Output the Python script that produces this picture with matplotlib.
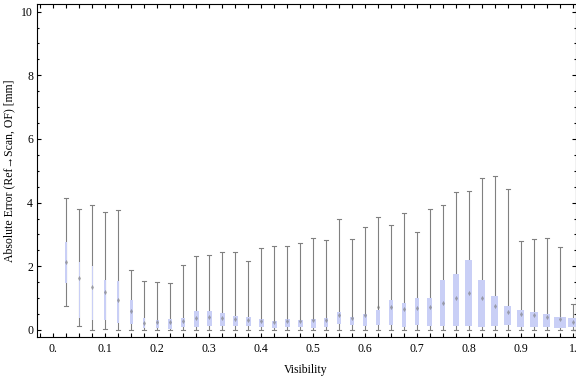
import numpy as np
import matplotlib
matplotlib.use("Agg")
import matplotlib.pyplot as plt
from matplotlib.patches import Rectangle
from matplotlib.ticker import MultipleLocator

# Visibility bins (box positions)
visibility = [0.025, 0.05, 0.075, 0.1, 0.125, 0.15, 0.175, 0.2, 0.225, 0.25,
              0.275, 0.3, 0.325, 0.35, 0.375, 0.4, 0.425, 0.45, 0.475, 0.5,
              0.525, 0.55, 0.575, 0.6, 0.625, 0.65, 0.675, 0.7, 0.725, 0.75,
              0.775, 0.8, 0.825, 0.85, 0.875, 0.9, 0.925, 0.95, 0.975, 1.0]

# absolute error statistics [mm]
whisker_lo = [0.75, 0.14, 0.0, 0.04, 0.0, 0.0, 0.0, 0.0, 0.0, 0.0,
              0.0, 0.0, 0.0, 0.0, 0.0, 0.0, 0.0, 0.0, 0.0, 0.0,
              0.0, 0.0, 0.0, 0.0, 0.0, 0.0, 0.0, 0.0, 0.0, 0.0,
              0.0, 0.0, 0.0, 0.0, 0.0, 0.0, 0.0, 0.0, 0.0, 0.0]
q1 = [1.49, 0.39, 0.31, 0.31, 0.21, 0.20, 0.07, 0.07, 0.04, 0.10,
      0.10, 0.14, 0.14, 0.14, 0.14, 0.10, 0.07, 0.10, 0.10, 0.07,
      0.10, 0.18, 0.15, 0.14, 0.17, 0.17, 0.10, 0.17, 0.14, 0.14,
      0.12, 0.14, 0.10, 0.14, 0.17, 0.10, 0.10, 0.10, 0.07, 0.10]
q3 = [2.76, 2.15, 2.01, 1.57, 1.54, 0.94, 0.37, 0.32, 0.34, 0.38,
      0.60, 0.60, 0.53, 0.45, 0.42, 0.35, 0.28, 0.35, 0.31, 0.35,
      0.38, 0.57, 0.41, 0.51, 0.63, 0.94, 0.85, 1.00, 1.00, 1.57,
      1.76, 2.20, 1.57, 1.07, 0.75, 0.63, 0.57, 0.50, 0.41, 0.38]
whisker_hi = [4.14, 3.79, 3.93, 3.71, 3.76, 1.88, 1.54, 1.51, 1.47, 2.03,
              2.31, 2.35, 2.45, 2.45, 2.17, 2.57, 2.63, 2.63, 2.72, 2.88,
              2.82, 3.48, 2.85, 3.23, 3.54, 3.30, 3.68, 3.08, 3.79, 3.93,
              4.33, 4.36, 4.77, 4.83, 4.42, 2.79, 2.85, 2.88, 2.60, 0.81]
mean_err = [2.15, 1.62, 1.36, 1.20, 0.94, 0.60, 0.23, 0.25, 0.25, 0.27,
            0.38, 0.41, 0.38, 0.34, 0.31, 0.29, 0.24, 0.29, 0.28, 0.31,
            0.32, 0.47, 0.39, 0.47, 0.72, 0.72, 0.66, 0.70, 0.73, 0.86,
            1.00, 1.15, 1.00, 0.76, 0.55, 0.49, 0.47, 0.42, 0.34, 0.26]
# relative sample weight of each bin (drives the box width)
rel_weight = [2, 1, 1, 2, 2.5, 3, 2, 3, 3.3, 3.7,
              5, 5, 5, 5, 5, 5, 5, 5, 5, 5,
              4, 4, 4, 4, 4, 4, 4, 4, 5, 5,
              6, 7, 7, 7, 7, 7, 8, 7, 12, 9]

xtick_vals = [0.0, 0.1, 0.2, 0.3, 0.4, 0.5, 0.6, 0.7, 0.8, 0.9, 1.0]
xtick_labels = ["0.", "0.1", "0.2", "0.3", "0.4", "0.5", "0.6", "0.7", "0.8", "0.9", "1."]
ytick_vals = [0, 2, 4, 6, 8, 10]

plt.rcParams['font.family'] = ['Liberation Serif', 'DejaVu Serif']
plt.rcParams['font.size'] = 8.5

fig = plt.figure(figsize=(5.76, 3.77), dpi=100)
ax = fig.add_axes([36.5 / 576, 40 / 377, 539 / 576, 332.7 / 377])

box_color = '#c9cff6'
line_color = '#808080'
width_unit = 1.0 / 520   # one weight unit ~ one pixel
cap_w = 0.0035

for x, lo, a, b, hi, m, w in zip(visibility, whisker_lo, q1, q3, whisker_hi, mean_err, rel_weight):
    # whisker with small caps
    ax.plot([x, x], [lo, hi], color=line_color, lw=0.8, zorder=2, solid_capstyle='butt')
    ax.plot([x - cap_w, x + cap_w], [lo, lo], color=line_color, lw=0.8, zorder=2)
    ax.plot([x - cap_w, x + cap_w], [hi, hi], color=line_color, lw=0.8, zorder=2)
    # box
    bw = w * width_unit
    ax.add_patch(Rectangle((x - bw / 2, a), bw, b - a, facecolor=box_color,
                           edgecolor='none', zorder=3))
    # mean marker
    ax.plot(x, m, marker='d', markersize=2.6, color='#777777', alpha=0.6,
            markeredgewidth=0, zorder=4)

ax.set_xlim(-0.032, 1.005)
ax.set_ylim(-0.22, 10.23)

ax.set_xticks(xtick_vals)
ax.set_xticklabels(xtick_labels)
ax.xaxis.set_minor_locator(MultipleLocator(0.025))
ax.set_yticks(ytick_vals)
ax.set_yticklabels([str(v) for v in ytick_vals])
ax.yaxis.set_minor_locator(MultipleLocator(0.5))

ax.tick_params(axis='both', which='both', direction='in', top=True, right=True,
               width=0.8, color='black')
ax.tick_params(axis='x', which='major', length=3.1, pad=4)
ax.tick_params(axis='x', which='minor', length=3.1)
ax.tick_params(axis='y', which='major', length=3.1, pad=2.5)
ax.tick_params(axis='y', which='minor', length=1.5)

for s in ax.spines.values():
    s.set_linewidth(0.8)

ax.set_xlabel("Visibility")
ax.set_ylabel("Absolute Error (Ref\u2192Scan, OF) [mm]")
ax.xaxis.set_label_coords(0.5, -0.082)
ax.yaxis.set_label_coords(-0.040, 0.5)

fig.savefig("out.png", dpi=100)
